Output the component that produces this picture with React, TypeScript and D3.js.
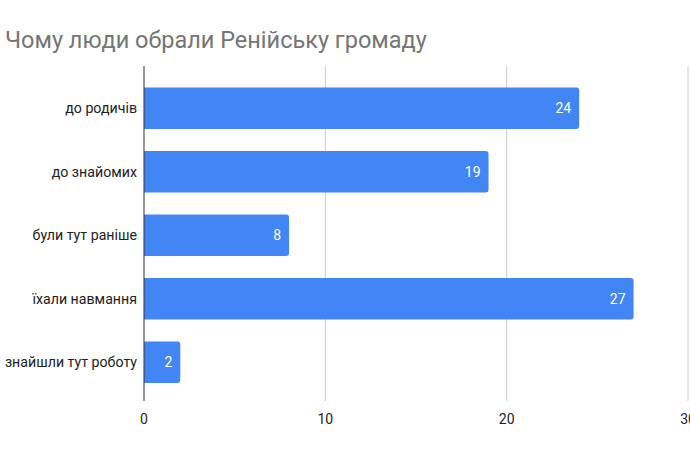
import React from "react";
import * as d3 from "d3";

const categories = ["до родичів", "до знайомих", "були тут раніше", "їхали навмання", "знайшли тут роботу"];
const values = [24, 19, 8, 27, 2];
const xTicks = [0, 10, 20, 30];
const title = "Чому люди обрали Ренійську громаду";

const W = 690;
const H = 450;

export default function App() {
  const x = d3.scaleLinear().domain([0, 30]).range([144, 688]);
  const y = d3.scaleBand<string>().domain(categories).range([76.5, 394]).paddingInner(0.35).paddingOuter(0.175);
  const gridTop = 66;
  const gridBottom = 401;
  const bw = y.bandwidth();
  const r = 3;
  const barPath = (x0: number, x1: number, yt: number, h: number) => {
    const rr = Math.min(r, (x1 - x0) / 2);
    return `M${x0},${yt}H${x1 - rr}Q${x1},${yt} ${x1},${yt + rr}V${yt + h - rr}Q${x1},${yt + h} ${x1 - rr},${yt + h}H${x0}Z`;
  };
  return (
    <svg width={W} height={H} style={{ position: "absolute", left: 0, top: 0, background: "#fff" }} fontFamily="Roboto, Arial, sans-serif">
      <text x={5} y={48} fontSize={23.5} fill="#757575" fontFamily="Roboto, Arial, sans-serif">{title}</text>
      {xTicks.map((t) => (
        <g key={t}>
          {t !== 0 && <line x1={x(t)} x2={x(t)} y1={gridTop} y2={gridBottom} stroke="#cccccc" strokeWidth={1} />}
          <text x={x(t)} y={424} fontSize={14} fill="#222" textAnchor="middle">{t}</text>
        </g>
      ))}
      {categories.map((c, i) => {
        const yt = y(c) as number;
        const x1 = x(values[i]);
        return (
          <g key={c}>
            <path d={barPath(x(0), x1, yt, bw)} fill="#4285f4" />
            <text x={x1 - 8} y={yt + bw / 2} dy="0.35em" fontSize={14} fill="#ffffff" textAnchor="end">{values[i]}</text>
            <text x={137} y={yt + bw / 2} dy="0.35em" fontSize={14.2} fill="#222" textAnchor="end">{c}</text>
          </g>
        );
      })}
      <line x1={x(0)} x2={x(0)} y1={gridTop} y2={gridBottom} stroke="#333" strokeWidth={1} />
    </svg>
  );
}
